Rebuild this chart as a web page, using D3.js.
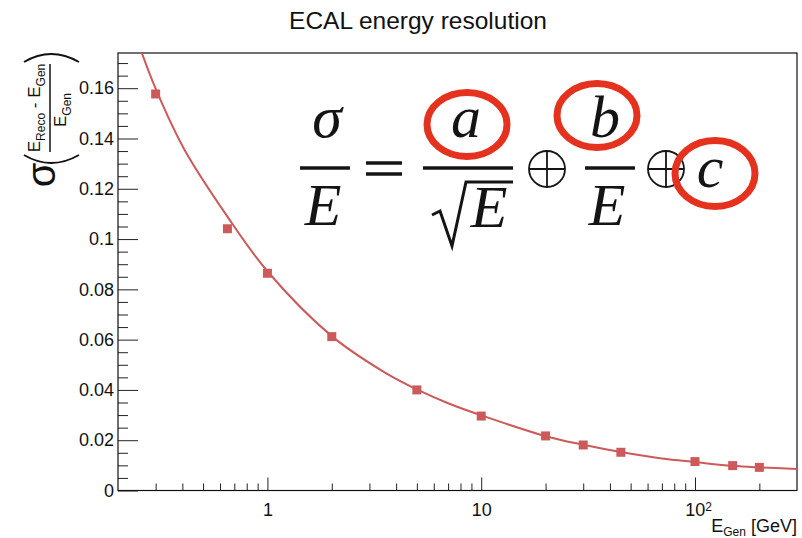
<!DOCTYPE html>
<html>
<head>
<meta charset="utf-8">
<script src="https://cdn.jsdelivr.net/npm/d3@7"></script>
<style>
  body { margin: 0; background: #fff; }
  text { font-family: "Liberation Sans", Arial, Helvetica, sans-serif; }
  text.serif { font-family: "Liberation Serif", "Times New Roman", serif; font-style: italic; }
</style>
</head>
<body>
<div id="chart"></div>
<script>
// measured points (E_Gen in GeV, relative resolution)
const energies = [0.3, 0.65, 1, 2, 5, 10, 20, 30, 45, 100, 150, 200];
const resolutions = [0.1577, 0.1041, 0.0864, 0.0612, 0.0400, 0.0296, 0.0217, 0.0181, 0.0152, 0.0115, 0.0099, 0.0092];

// fitted curve
const fitEnergies = [0.25, 0.3, 0.41, 0.65, 1, 2, 3.5, 5, 7, 10, 20, 30, 45, 70, 100, 150, 200, 300];
const fitValues = [0.1775, 0.1598, 0.1354, 0.1089, 0.0872, 0.0614, 0.0472, 0.0402, 0.0347, 0.0299, 0.0216, 0.0182, 0.0153, 0.0127, 0.0113, 0.0098, 0.0092, 0.0086];

const yTicks = [0, 0.02, 0.04, 0.06, 0.08, 0.1, 0.12, 0.14, 0.16];
const xMajor = [1, 10, 100];
const xTickLabels = ["1", "10", "10"];

const W = 802, H = 538;
const margin = {top: 53, right: 5, bottom: 47.5, left: 118};
const width = W - margin.left - margin.right,
  height = H - margin.top - margin.bottom;

const svgRoot = d3.select('#chart').append('svg')
  .attr('width', W)
  .attr('height', H);

const svg = svgRoot.append('g')
  .attr('transform', `translate(${margin.left}, ${margin.top})`);

const xScale = d3.scaleLog()
  .domain([0.2, 300])
  .range([0, width]);

const yScale = d3.scaleLinear()
  .domain([0, 0.174])
  .range([height, 0]);

const red = '#cd5a5a';

// minor ticks
const xMinor = [];
[-1, 0, 1, 2].forEach(p => {
  for (let k = 2; k <= 9; k++) {
    const v = k * Math.pow(10, p);
    if (v > 0.2 && v < 300) xMinor.push(+v.toPrecision(3));
  }
});
const yMinor = d3.range(0.005, 0.174, 0.005).filter(v => Math.round(v * 1000) % 20 !== 0);

// Axes
svg.append('g')
  .attr('class', 'axis x-minor')
  .attr('transform', `translate(0, ${height})`)
  .call(d3.axisBottom(xScale).tickValues(xMinor).tickSizeInner(-7).tickSizeOuter(0).tickFormat(''));

const xAxisGroup = svg.append('g')
  .attr('class', 'axis x-axis')
  .attr('transform', `translate(0, ${height})`)
  .call(d3.axisBottom(xScale).tickValues(xMajor).tickSizeInner(-13).tickSizeOuter(0)
    .tickPadding(13).tickFormat((d, i) => xTickLabels[i]));

xAxisGroup.selectAll('.tick text')
  .filter(d => d === 100)
  .attr('dx', 3)
  .append('tspan')
  .attr('dy', '-0.45em')
  .attr('font-size', 12)
  .text('2');

svg.append('g')
  .attr('class', 'axis y-minor')
  .call(d3.axisLeft(yScale).tickValues(yMinor).tickSizeInner(-10).tickSizeOuter(0).tickFormat(''));

svg.append('g')
  .attr('class', 'axis y-axis')
  .call(d3.axisLeft(yScale).tickValues(yTicks).tickSizeInner(-20).tickSizeOuter(0)
    .tickPadding(4).tickFormat(d => d3.format('')(+d.toFixed(2))));

svg.selectAll('.axis path.domain').remove();
svg.selectAll('.axis line').attr('stroke', '#222');
svg.selectAll('.axis text').attr('font-size', 18).attr('fill', '#111');

// Frame
svg.append('rect')
  .attr('x', 0).attr('y', 0)
  .attr('width', width).attr('height', height)
  .attr('fill', 'none')
  .attr('stroke', '#111')
  .attr('stroke-width', 1.2);

// Fit curve
svg.append('clipPath').attr('id', 'plotclip')
  .append('rect').attr('width', width).attr('height', height);

const line = d3.line()
  .x(d => xScale(d[0]))
  .y(d => yScale(d[1]))
  .curve(d3.curveCatmullRom.alpha(0.5));

svg.append('path')
  .datum(d3.zip(fitEnergies, fitValues))
  .attr('clip-path', 'url(#plotclip)')
  .attr('fill', 'none')
  .attr('stroke', red)
  .attr('stroke-width', 2)
  .attr('d', line);

// Markers
const ms = 9;
svg.selectAll('rect.point')
  .data(d3.zip(energies, resolutions))
  .enter()
  .append('rect')
  .attr('class', 'point')
  .attr('x', d => xScale(d[0]) - ms / 2)
  .attr('y', d => yScale(d[1]) - ms / 2)
  .attr('width', ms)
  .attr('height', ms)
  .attr('fill', red);

// Title
svgRoot.append('text')
  .attr('x', 418).attr('y', 29)
  .attr('text-anchor', 'middle')
  .attr('font-size', 24.5)
  .attr('fill', '#111')
  .text('ECAL energy resolution');

// X axis title
const xt = svgRoot.append('text')
  .attr('x', 797).attr('y', 532)
  .attr('text-anchor', 'end')
  .attr('font-size', 18)
  .attr('fill', '#111');
xt.append('tspan').text('E');
xt.append('tspan').attr('font-size', 12).attr('dy', 4).text('Gen');
xt.append('tspan').attr('dy', -4).text(' [GeV]');

// Y axis title (rotated)
const yl = svgRoot.append('g').attr('transform', 'rotate(-90)').attr('fill', '#111');
yl.append('text')
  .attr('x', -175).attr('y', 55)
  .attr('text-anchor', 'middle')
  .attr('font-size', 40)
  .text('σ');
const num = yl.append('text')
  .attr('x', -108).attr('y', 40)
  .attr('text-anchor', 'middle')
  .attr('font-size', 17);
num.append('tspan').text('E');
num.append('tspan').attr('font-size', 12).attr('dy', 5).text('Reco');
num.append('tspan').attr('dy', -5).text(' - E');
num.append('tspan').attr('font-size', 12).attr('dy', 5).text('Gen');
const den = yl.append('text')
  .attr('x', -110).attr('y', 66)
  .attr('text-anchor', 'middle')
  .attr('font-size', 17);
den.append('tspan').text('E');
den.append('tspan').attr('font-size', 12).attr('dy', 5).text('Gen');
svgRoot.append('line')
  .attr('x1', 50).attr('x2', 50).attr('y1', 64).attr('y2', 152)
  .attr('stroke', '#111').attr('stroke-width', 1.5);
svgRoot.append('path')
  .attr('d', 'M24,62 Q51,46 79,62')
  .attr('fill', 'none').attr('stroke', '#111').attr('stroke-width', 1.8);
svgRoot.append('path')
  .attr('d', 'M24,155 Q51,171 79,155')
  .attr('fill', 'none').attr('stroke', '#111').attr('stroke-width', 1.8);

// Formula annotation
const fm = svgRoot.append('g').attr('class', 'formula');
const ink = '#141414';
function letter(x, y, s, size) {
  fm.append('text')
    .attr('class', 'serif')
    .attr('x', x).attr('y', y)
    .attr('text-anchor', 'middle')
    .attr('font-size', size)
    .attr('fill', ink)
    .text(s);
}
function bar(x1, x2, y) {
  fm.append('line').attr('x1', x1).attr('x2', x2).attr('y1', y).attr('y2', y)
    .attr('stroke', ink).attr('stroke-width', 3.5);
}
function oplus(cx, cy) {
  fm.append('circle').attr('cx', cx).attr('cy', cy).attr('r', 18)
    .attr('fill', 'none').attr('stroke', ink).attr('stroke-width', 1.8);
  fm.append('path').attr('d', `M${cx - 18},${cy} H${cx + 18} M${cx},${cy - 18} V${cy + 18}`)
    .attr('stroke', ink).attr('stroke-width', 1.8);
}
function ring(cx, cy, rx, ry) {
  fm.append('ellipse').attr('cx', cx).attr('cy', cy).attr('rx', rx).attr('ry', ry)
    .attr('fill', 'none').attr('stroke', '#e5321f').attr('stroke-width', 7);
}

letter(327, 137, 'σ', 60);
bar(300, 350, 168);
letter(323, 225, 'E', 60);
bar(366, 402, 163);
bar(366, 402, 174);
letter(466, 137, 'a', 60);
bar(423, 513, 168);
fm.append('path').attr('d', 'M432,215 L440,211 L452,246 L466,182 L513,182')
  .attr('fill', 'none').attr('stroke', ink).attr('stroke-width', 3);
letter(489, 227, 'E', 60);
oplus(547, 169);
letter(605, 137, 'b', 60);
bar(585, 635, 168);
letter(607, 225, 'E', 60);
oplus(666, 169);
letter(710, 187, 'c', 60);
ring(467, 124.5, 40, 32);
ring(597, 115.5, 40, 32);
ring(715, 173.5, 40, 33);
</script>
</body>
</html>
